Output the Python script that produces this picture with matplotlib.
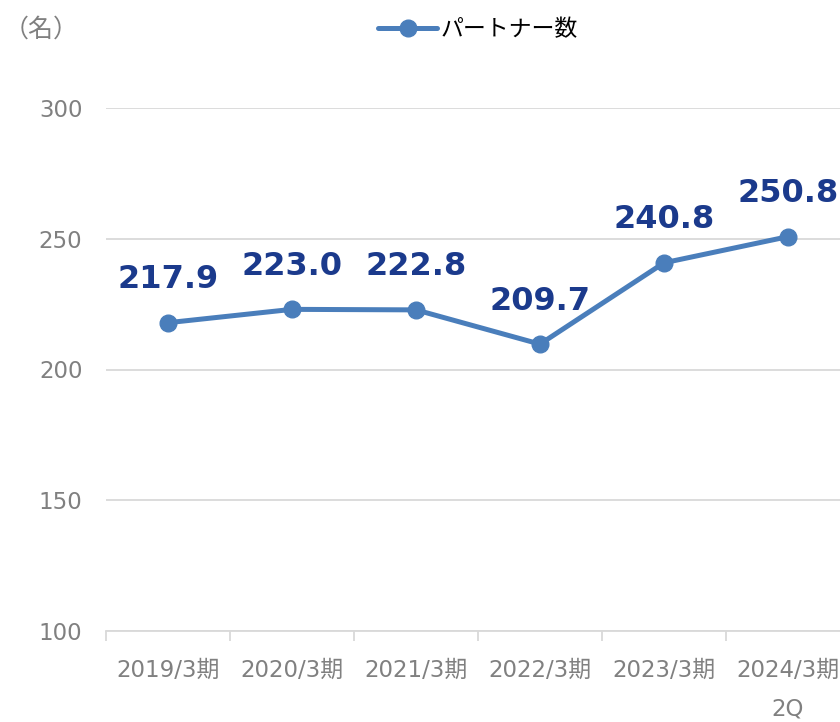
import matplotlib
matplotlib.use("Agg")
import matplotlib.pyplot as plt
from matplotlib.ticker import FixedLocator

# data
categories = ["2019/3期", "2020/3期", "2021/3期", "2022/3期", "2023/3期", "2024/3期\n2Q"]
partners = [217.9, 223.0, 222.8, 209.7, 240.8, 250.8]
y_ticks = [100, 150, 200, 250, 300]

LINE_COLOR = "#4a7ebb"
LABEL_COLOR = "#1b3a8c"
TICK_COLOR = "#808080"
GRID_COLOR = "#d9d9d9"

plt.rcParams["font.family"] = ["DejaVu Sans", "Noto Sans CJK JP"]

fig = plt.figure(figsize=(8.4, 7.22), dpi=100)
# plot area runs past the right edge, like the cropped reference
ax = fig.add_axes([106 / 840, 1 - 631 / 722, 744 / 840, (631 - 108) / 722])

x = list(range(len(categories)))
line, = ax.plot(x, partners, color=LINE_COLOR, lw=3.6, marker="o", markersize=12,
                solid_capstyle="round", label="パートナー数", zorder=3)

for xi, v in zip(x, partners):
    ax.annotate(f"{v:.1f}", (xi, v), xytext=(0, 31), textcoords="offset points",
                ha="center", va="center", fontsize=23, fontweight="bold",
                color=LABEL_COLOR)

ax.set_xlim(-0.5, len(categories) - 0.5)
ax.set_ylim(100, 300)
ax.set_yticks(y_ticks)
ax.grid(axis="y", color=GRID_COLOR, lw=1.3)
ax.set_axisbelow(True)

ax.xaxis.set_major_locator(FixedLocator([i - 0.5 for i in range(len(categories) + 1)]))
ax.xaxis.set_minor_locator(FixedLocator(x))
ax.set_xticklabels([])
ax.set_xticklabels(categories, minor=True)
ax.tick_params(axis="x", which="major", length=7, width=1.3, color=GRID_COLOR)
ax.tick_params(axis="x", which="minor", length=0, pad=20, labelsize=16.5,
               labelcolor=TICK_COLOR)
for lbl in ax.get_xticklabels(minor=True):
    lbl.set_linespacing(1.85)
    lbl.set_verticalalignment("top")
ax.tick_params(axis="y", length=0, pad=17, labelsize=16.5, labelcolor=TICK_COLOR)

for s in ["top", "right", "left"]:
    ax.spines[s].set_visible(False)
ax.spines["bottom"].set_color(GRID_COLOR)
ax.spines["bottom"].set_linewidth(1.3)

fig.text(4 / 840, 1 - 30 / 722, "（名）", fontsize=18, color=TICK_COLOR,
         ha="left", va="center", family=["Noto Sans CJK JP"])
fig.legend(handles=[line], loc="center", bbox_to_anchor=(478 / 840, 1 - 30 / 722),
           frameon=False, handlelength=2.6, handletextpad=0.15,
           prop={"family": ["Noto Sans CJK JP"], "size": 16.5})

fig.savefig("out.png", dpi=100)
